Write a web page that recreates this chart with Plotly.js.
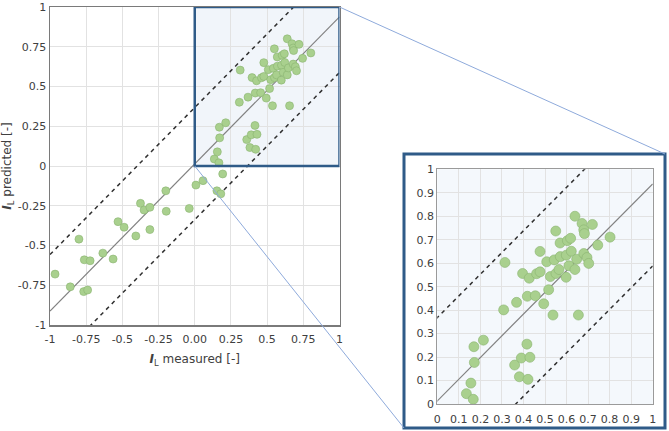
<!DOCTYPE html>
<html>
<head>
<meta charset="utf-8">
<script src="https://cdn.plot.ly/plotly-3.0.1.min.js"></script>
<style>html,body{margin:0;padding:0;background:#fff;}#chart{width:669px;height:431px;}</style>
</head>
<body>
<div id="chart"></div>
<script>
// ---- data ----
const measured = [
  -0.965, -0.80, -0.86, -0.767, -0.74, -0.763, -0.723, -0.635, -0.564, -0.53,
  -0.488, -0.407, -0.375, -0.35, -0.31, -0.31, -0.20, -0.197, -0.038, 0.008,
  0.057, 0.153, 0.18, 0.193,
  0.135, 0.167, 0.156, 0.172, 0.170, 0.214, 0.308, 0.368, 0.359, 0.381,
  0.39, 0.416, 0.43, 0.421, 0.418, 0.455, 0.494, 0.537, 0.517, 0.655,
  0.314, 0.396, 0.427, 0.461, 0.477, 0.477, 0.508, 0.525, 0.55, 0.543,
  0.551, 0.565, 0.571, 0.57, 0.604, 0.619, 0.599, 0.598, 0.622, 0.611,
  0.639, 0.639, 0.647, 0.68, 0.695, 0.703, 0.672, 0.68, 0.683, 0.72,
  0.745, 0.802
];
const predicted = [
  -0.68, -0.46, -0.76, -0.79, -0.78, -0.59, -0.596, -0.548, -0.585, -0.35,
  -0.385, -0.44, -0.235, -0.277, -0.26, -0.40, -0.156, -0.285, -0.267, -0.12,
  -0.092, -0.156, -0.175, -0.05,
  0.044, 0.02, 0.089, 0.177, 0.244, 0.272, 0.401, 0.433, 0.166, 0.116,
  0.196, 0.255, 0.199, 0.105, 0.459, 0.461, 0.427, 0.379, 0.487, 0.379,
  0.603, 0.556, 0.536, 0.555, 0.563, 0.65, 0.606, 0.543, 0.737, 0.614,
  0.556, 0.573, 0.628, 0.686, 0.696, 0.706, 0.634, 0.54, 0.651, 0.589,
  0.573, 0.80, 0.617, 0.641, 0.624, 0.599, 0.769, 0.742, 0.726, 0.765,
  0.677, 0.711
];
// fitted line and band (slope, intercept)
const fitSlope = 0.925;
const fitIntercept = 0.013;
const bandUpperIntercept = 0.368;
const bandLowerIntercept = -0.337;
const lineX = [-1, 1];

const mainTickVals = [-1, -0.75, -0.5, -0.25, 0, 0.25, 0.5, 0.75, 1];
const mainXTickText = ['-1', '-0.75', '-0.5', '-0.25', '0.00', '0.25', '0.5', '0.75', '1'];
const mainYTickText = ['-1', '-0.75', '-0.5', '-0.25', '0', '0.25', '0.5', '0.75', '1'];
const insetTickVals = [0, 0.1, 0.2, 0.3, 0.4, 0.5, 0.6, 0.7, 0.8, 0.9, 1];
const insetTickText = ['0', '0.1', '0.2', '0.3', '0.4', '0.5', '0.6', '0.7', '0.8', '0.9', '1'];

// ---- layout geometry (px in 669x431) ----
const W = 669, H = 431;
const px = v => v / W;
const py = v => 1 - v / H;
const mainX = [px(50), px(339.5)];
const mainY = [py(325), py(7)];
const insX = [px(437.3), px(652.7)];
const insY = [py(404), py(169.3)];
const frame = {x0: px(404), x1: px(665), y0: py(428), y1: py(154)};

const FONT = 'DejaVu Sans, Verdana, sans-serif';
const TXT = '#404040';
const GREEN = 'rgb(169,208,142)';
const GREEN_LINE = 'rgb(138,180,112)';
const BLUE = '#2f5b88';

const yFit = lineX.map(x => fitSlope * x + fitIntercept);
const yUp = lineX.map(x => fitSlope * x + bandUpperIntercept);
const yLo = lineX.map(x => fitSlope * x + bandLowerIntercept);

function lineTraces(xa, ya) {
  return [
    {x: lineX, y: yFit, xaxis: xa, yaxis: ya, mode: 'lines', hoverinfo: 'skip',
     line: {color: '#808080', width: 1.2}},
    {x: lineX, y: yUp, xaxis: xa, yaxis: ya, mode: 'lines', hoverinfo: 'skip',
     line: {color: '#303030', width: 1.5, dash: '4px,4px'}},
    {x: lineX, y: yLo, xaxis: xa, yaxis: ya, mode: 'lines', hoverinfo: 'skip',
     line: {color: '#303030', width: 1.5, dash: '4px,4px'}}
  ];
}

const traces = [
  ...lineTraces('x', 'y'),
  {x: measured, y: predicted, xaxis: 'x', yaxis: 'y', mode: 'markers',
   marker: {size: 8, color: GREEN, line: {color: GREEN_LINE, width: 0.6}}},
  ...lineTraces('x2', 'y2'),
  {x: measured, y: predicted, xaxis: 'x2', yaxis: 'y2', mode: 'markers',
   marker: {size: 10, color: GREEN, line: {color: GREEN_LINE, width: 0.6}}}
];

const axisCommon = {
  showgrid: true, gridcolor: '#e2e2e2', gridwidth: 1, zeroline: false,
  showline: true, mirror: true, ticks: '', fixedrange: true,
  ticklabeloverflow: 'allow',
  tickfont: {family: FONT, size: 11, color: TXT}
};

const layout = {
  width: W, height: H,
  margin: {l: 0, r: 0, t: 0, b: 0},
  paper_bgcolor: '#ffffff',
  plot_bgcolor: 'rgba(0,0,0,0)',
  showlegend: false,
  font: {family: FONT, color: TXT},
  xaxis: Object.assign({}, axisCommon, {
    domain: mainX, range: [-1, 1], anchor: 'y',
    tickvals: mainTickVals, ticktext: mainXTickText,
    linecolor: '#7a7a7a', linewidth: 1.5, ticklabelstandoff: 3,
    title: {text: '<b><i>I</i></b><sub>L</sub> measured [-]', font: {family: FONT, size: 12, color: TXT}, standoff: 10}
  }),
  yaxis: Object.assign({}, axisCommon, {
    domain: mainY, range: [-1, 1], anchor: 'x',
    tickvals: mainTickVals, ticktext: mainYTickText,
    linecolor: '#7a7a7a', linewidth: 1.5,
    title: {text: '<b><i>I</i></b><sub>L</sub> predicted [-]', font: {family: FONT, size: 12, color: TXT}, standoff: 6}
  }),
  xaxis2: Object.assign({}, axisCommon, {
    domain: insX, range: [0, 1], anchor: 'y2',
    tickvals: insetTickVals, ticktext: insetTickText,
    linecolor: '#9a9a9a', linewidth: 1, ticklabelstandoff: 5
  }),
  yaxis2: Object.assign({}, axisCommon, {
    domain: insY, range: [0, 1], anchor: 'x2',
    tickvals: insetTickVals, ticktext: insetTickText,
    linecolor: '#9a9a9a', linewidth: 1
  }),
  shapes: [
    // inset frame
    {type: 'rect', xref: 'paper', yref: 'paper', layer: 'below',
     x0: frame.x0, x1: frame.x1, y0: frame.y0, y1: frame.y1,
     fillcolor: '#ffffff', line: {color: BLUE, width: 3}},
    // inset plot background
    {type: 'rect', xref: 'x2 domain', yref: 'y2 domain', layer: 'below',
     x0: 0, x1: 1, y0: 0, y1: 1, fillcolor: '#f4f8fc', line: {width: 0}},
    // highlighted zoom region in main plot
    {type: 'rect', xref: 'x', yref: 'y', layer: 'below',
     x0: 0, x1: 1, y0: 0, y1: 1, fillcolor: '#f1f5fa', line: {width: 0}},
    {type: 'rect', xref: 'x', yref: 'y', layer: 'above',
     x0: 0, x1: 1, y0: 0, y1: 1, fillcolor: 'rgba(0,0,0,0)', line: {color: BLUE, width: 2.5}},
    // connector lines
    {type: 'line', xref: 'paper', yref: 'paper', layer: 'above',
     x0: mainX[1], y0: mainY[1], x1: frame.x1, y1: frame.y1,
     line: {color: '#8eaadb', width: 1}},
    {type: 'line', xref: 'paper', yref: 'paper', layer: 'above',
     x0: (mainX[0] + mainX[1]) / 2, y0: (mainY[0] + mainY[1]) / 2, x1: frame.x0, y1: frame.y0,
     line: {color: '#8eaadb', width: 1}}
  ]
};

Plotly.newPlot('chart', traces, layout, {displayModeBar: false, staticPlot: true});
</script>
</body>
</html>
